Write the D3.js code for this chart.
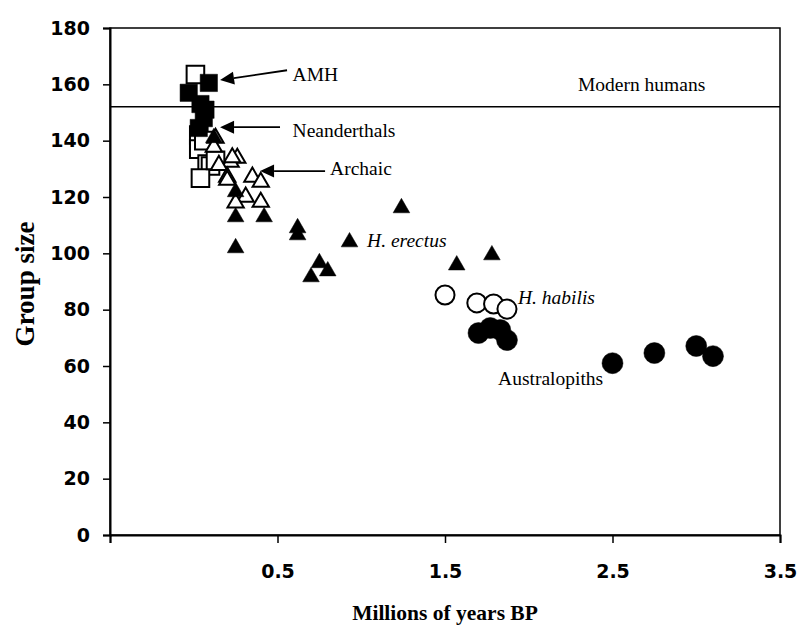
<!DOCTYPE html>
<html>
<head>
<meta charset="utf-8">
<script src="https://cdn.jsdelivr.net/npm/d3@7"></script>
<style>
  body { margin: 0; background: #fff; }
  svg { display: block; }
</style>
</head>
<body>
<svg id="chart" width="799" height="626"></svg>
<script>
// data: [millions of years BP, group size]
var neanderthals = [[0.01, 163.5], [0.03, 142], [0.03, 137], [0.06, 140], [0.08, 131.7], [0.1, 131], [0.04, 126.7], [0.13, 133]];
var amh = [[-0.03, 157], [0.09, 160.5], [0.04, 153], [0.06, 148], [0.03, 144.5], [0.07, 151]];
var archaic = [[0.13, 140.9], [0.26, 133.8], [0.22, 132.4], [0.35, 127.1], [0.40, 125.3], [0.2, 127.1], [0.31, 120], [0.40, 118.2], [0.25, 117.9], [0.12, 137.7], [0.15, 131.3], [0.23, 134], [0.2, 126]];
var erectus = [[0.12, 141], [0.25, 121.8], [0.25, 112.9], [0.42, 112.9], [0.25, 101.9], [0.62, 109], [0.62, 106.5], [0.93, 104], [0.75, 96.6], [0.80, 93.7], [0.70, 91.6], [1.24, 116.1], [1.78, 99.4], [1.57, 95.8]];
var habilis = [[1.50, 85.2], [1.69, 82.4], [1.79, 82], [1.87, 80.2]];
var australopiths = [[1.70, 71.7], [1.77, 73.5], [1.83, 72.8], [1.87, 69.2], [2.5, 61], [2.75, 64.6], [3.0, 67.1], [3.1, 63.5]];

var modernHumans = 152;
var xTicks = [-0.5, 0.5, 1.5, 2.5, 3.5];
var xTickLabels = ['', '0.5', '1.5', '2.5', '3.5'];
var yTicks = [0, 20, 40, 60, 80, 100, 120, 140, 160, 180];

// labels: text position and optional arrow tip / tail, in data units
var notes = [
    { text: 'AMH', x: 0.59, y: 163.6, tip: [0.157, 161.5], tail: [0.557, 165] },
    { text: 'Neanderthals', x: 0.59, y: 143.8, tip: [0.157, 144.8], tail: [0.515, 144.8] },
    { text: 'Archaic', x: 0.814, y: 130.3, tip: [0.396, 129.2], tail: [0.784, 129.2] },
    { text: 'H. erectus', x: 1.035, y: 104.7, italic: true },
    { text: 'H. habilis', x: 1.936, y: 84.5, italic: true },
    { text: 'Australopiths', x: 1.817, y: 55.7 },
    { text: 'Modern humans', x: 2.294, y: 160.1 }
];

var svg = d3.select('#chart');
var plot = { left: 110, right: 780, top: 28, bottom: 535 };

var x = d3.scaleLinear().domain([-0.5, 3.5]).range([plot.left, plot.right]);
var y = d3.scaleLinear().domain([0, 180]).range([plot.bottom, plot.top]);

// frame
svg.append('rect')
    .attr('x', plot.left)
    .attr('y', plot.top)
    .attr('width', plot.right - plot.left)
    .attr('height', plot.bottom - plot.top)
    .attr('fill', 'none')
    .attr('stroke', '#000')
    .attr('stroke-width', 1.5);

var yAxis = svg.append('g')
    .attr('transform', `translate(${plot.left},0)`)
    .call(d3.axisLeft(y).tickValues(yTicks).tickSize(7).tickPadding(13).tickFormat(d3.format('d')));

var xAxis = svg.append('g')
    .attr('transform', `translate(0,${plot.bottom})`)
    .call(d3.axisBottom(x).tickValues(xTicks).tickSize(8).tickPadding(22)
        .tickFormat(function (d, i) { return xTickLabels[i]; }));

[yAxis, xAxis].forEach(function (g) {
    g.select('.domain').attr('stroke-width', 2);
    g.selectAll('.tick line').attr('stroke-width', 1.5);
    g.selectAll('.tick text')
        .attr('fill', '#000')
        .attr('font-family', '"DejaVu Sans", sans-serif')
        .attr('font-weight', 'bold')
        .attr('font-size', 19);
});

// modern humans reference line
svg.append('line')
    .attr('x1', plot.left)
    .attr('x2', plot.right)
    .attr('y1', y(modernHumans))
    .attr('y2', y(modernHumans))
    .attr('stroke', '#000')
    .attr('stroke-width', 1.5);

function drawSeries(data, type, size, filled) {
    svg.append('g')
        .selectAll('path')
        .data(data)
        .join('path')
        .attr('transform', d => `translate(${x(d[0])},${y(d[1])})`)
        .attr('d', d3.symbol().type(type).size(size))
        .attr('fill', filled ? '#000' : '#fff')
        .attr('stroke', '#000')
        .attr('stroke-width', filled ? 0.5 : 2);
}

drawSeries(neanderthals, d3.symbolSquare, 310, false);
drawSeries(amh, d3.symbolSquare, 300, true);
drawSeries(archaic, d3.symbolTriangle, 115, false);
drawSeries(erectus, d3.symbolTriangle, 120, true);
drawSeries(habilis, d3.symbolCircle, 285, false);
drawSeries(australopiths, d3.symbolCircle, 346, true);

// annotations
var ann = svg.append('g')
    .attr('font-family', '"Liberation Serif", "Times New Roman", serif')
    .attr('font-size', 19.5);

notes.forEach(function (n) {
    ann.append('text')
        .attr('x', x(n.x))
        .attr('y', y(n.y))
        .attr('dy', '0.35em')
        .attr('font-style', n.italic ? 'italic' : 'normal')
        .text(n.text);

    if (n.tip) {
        var tx = x(n.tip[0]), ty = y(n.tip[1]);
        var sx = x(n.tail[0]), sy = y(n.tail[1]);
        var ang = Math.atan2(sy - ty, sx - tx);
        var len = 14, half = 6.5;
        var bx = tx + len * Math.cos(ang), by = ty + len * Math.sin(ang);
        ann.append('line')
            .attr('x1', bx).attr('y1', by)
            .attr('x2', sx).attr('y2', sy)
            .attr('stroke', '#000')
            .attr('stroke-width', 1.8);
        ann.append('path')
            .attr('d', `M${tx},${ty}L${bx - half * Math.sin(ang)},${by + half * Math.cos(ang)}L${bx + half * Math.sin(ang)},${by - half * Math.cos(ang)}Z`)
            .attr('fill', '#000');
    }
});

// axis titles
svg.append('text')
    .attr('x', (plot.left + plot.right) / 2)
    .attr('y', 612)
    .attr('dy', '0.35em')
    .attr('text-anchor', 'middle')
    .attr('font-family', '"Liberation Serif", "Times New Roman", serif')
    .attr('font-weight', 'bold')
    .attr('font-size', 21.5)
    .text('Millions of years BP');

svg.append('text')
    .attr('transform', `translate(25,284) rotate(-90)`)
    .attr('dy', '0.35em')
    .attr('text-anchor', 'middle')
    .attr('font-family', '"Liberation Serif", "Times New Roman", serif')
    .attr('font-weight', 'bold')
    .attr('font-size', 27)
    .text('Group size');
</script>
</body>
</html>
